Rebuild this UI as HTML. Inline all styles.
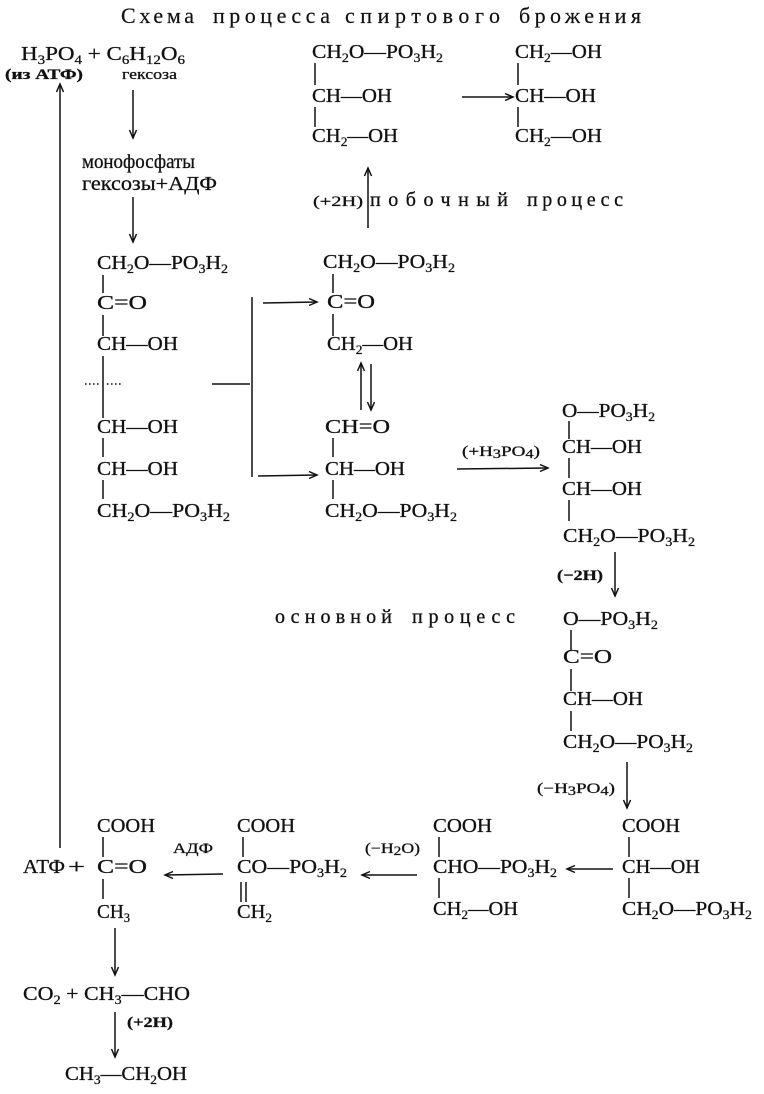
<!DOCTYPE html>
<html><head><meta charset="utf-8">
<style>
html,body{margin:0;padding:0;background:#fff;}
svg{display:block;}
text{font-family:"Liberation Serif","DejaVu Serif",serif;font-size:20px;fill:#111;stroke:#111;stroke-width:0.3;}
.b{font-size:13px;}
.sm{font-size:15px;}
.tt{font-size:22px;stroke-width:0.2;}
line,polyline{stroke:#111;stroke-width:1.5;fill:none;}
.d{stroke-dasharray:1.6,2.4;stroke-width:1.6;}
</style></head>
<body>
<svg width="764" height="1094" viewBox="0 0 764 1094" xmlns="http://www.w3.org/2000/svg">
<!-- Title -->
<text class="tt" x="121" y="23" textLength="73" lengthAdjust="spacing">Схема</text>
<text class="tt" x="213" y="23" textLength="117" lengthAdjust="spacing">процесса</text>
<text class="tt" x="345" y="23" textLength="155" lengthAdjust="spacing">спиртового</text>
<text class="tt" x="519" y="23" textLength="122" lengthAdjust="spacing">брожения</text>

<!-- Top left -->
<text x="21" y="60" textLength="164" lengthAdjust="spacingAndGlyphs">H<tspan class="b" dy="4">3</tspan><tspan dy="-4">PO</tspan><tspan class="b" dy="4">4</tspan><tspan dy="-4"> + C</tspan><tspan class="b" dy="4">6</tspan><tspan dy="-4">H</tspan><tspan class="b" dy="4">12</tspan><tspan dy="-4">O</tspan><tspan class="b" dy="4">6</tspan></text>
<text class="sm" x="5" y="79" font-weight="bold" textLength="78" lengthAdjust="spacingAndGlyphs">(из АТФ)</text>
<text class="sm" x="122" y="79" textLength="55" lengthAdjust="spacingAndGlyphs">гексоза</text>
<line x1="133" y1="90" x2="133" y2="138"/><polyline points="129.5,130 133,138 136.5,130"/>
<text x="82" y="168" textLength="113" lengthAdjust="spacingAndGlyphs">монофосфаты</text>
<text x="82" y="190" textLength="135" lengthAdjust="spacingAndGlyphs">гексозы+АДФ</text>
<line x1="133" y1="197" x2="133" y2="242"/><polyline points="129.5,234 133,242 136.5,234"/>

<!-- long left arrow -->
<line x1="60" y1="848" x2="60" y2="84"/><polyline points="56.5,92 60,84 63.5,92"/>

<!-- Top middle chain -->
<text x="312" y="58" textLength="131" lengthAdjust="spacingAndGlyphs">CH<tspan class="b" dy="4">2</tspan><tspan dy="-4">O—PO</tspan><tspan class="b" dy="4">3</tspan><tspan dy="-4">H</tspan><tspan class="b" dy="4">2</tspan></text>
<line x1="315" y1="63" x2="315" y2="85"/>
<text x="312" y="102" textLength="80" lengthAdjust="spacingAndGlyphs">CH—OH</text>
<line x1="315" y1="107" x2="315" y2="127"/>
<text x="312" y="142" textLength="86" lengthAdjust="spacingAndGlyphs">CH<tspan class="b" dy="4">2</tspan><tspan dy="-4">—OH</tspan></text>
<line x1="462" y1="97" x2="513" y2="97"/><polyline points="505,93.5 513,97 505,100.5"/>
<!-- Top right chain -->
<text x="515" y="58" textLength="87" lengthAdjust="spacingAndGlyphs">CH<tspan class="b" dy="4">2</tspan><tspan dy="-4">—OH</tspan></text>
<line x1="518" y1="63" x2="518" y2="85"/>
<text x="515" y="102" textLength="81" lengthAdjust="spacingAndGlyphs">CH—OH</text>
<line x1="518" y1="107" x2="518" y2="127"/>
<text x="515" y="142" textLength="87" lengthAdjust="spacingAndGlyphs">CH<tspan class="b" dy="4">2</tspan><tspan dy="-4">—OH</tspan></text>

<!-- side process -->
<text class="sm" x="313" y="206" textLength="50" lengthAdjust="spacingAndGlyphs">(+2H)</text>
<line x1="368" y1="228" x2="368" y2="168"/><polyline points="364.5,176 368,168 371.5,176"/>
<text x="370" y="206" textLength="138" lengthAdjust="spacing">побочный</text>
<text x="527" y="206" textLength="96" lengthAdjust="spacing">процесс</text>

<!-- Left chain (hexose diphosphate) -->
<text x="97" y="269" textLength="131" lengthAdjust="spacingAndGlyphs">CH<tspan class="b" dy="4">2</tspan><tspan dy="-4">O—PO</tspan><tspan class="b" dy="4">3</tspan><tspan dy="-4">H</tspan><tspan class="b" dy="4">2</tspan></text>
<line x1="103" y1="275" x2="103" y2="293"/>
<text x="97" y="309" textLength="50" lengthAdjust="spacingAndGlyphs">C=O</text>
<line x1="103" y1="315" x2="103" y2="336"/>
<text x="97" y="350" textLength="81" lengthAdjust="spacingAndGlyphs">CH—OH</text>
<line x1="103" y1="356" x2="103" y2="418"/>
<line class="d" x1="85" y1="384" x2="101" y2="384"/>
<line class="d" x1="107" y1="384" x2="123" y2="384"/>
<text x="97" y="433" textLength="81" lengthAdjust="spacingAndGlyphs">CH—OH</text>
<line x1="103" y1="438" x2="103" y2="457"/>
<text x="97" y="475" textLength="81" lengthAdjust="spacingAndGlyphs">CH—OH</text>
<line x1="103" y1="480" x2="103" y2="499"/>
<text x="97" y="517" textLength="133" lengthAdjust="spacingAndGlyphs">CH<tspan class="b" dy="4">2</tspan><tspan dy="-4">O—PO</tspan><tspan class="b" dy="4">3</tspan><tspan dy="-4">H</tspan><tspan class="b" dy="4">2</tspan></text>

<!-- split connector -->
<line x1="212" y1="384" x2="250" y2="384"/>
<line x1="252" y1="297" x2="252" y2="477"/>
<line x1="263" y1="303" x2="317" y2="302"/><polyline points="309,298.5 317,302 309,305.5"/>
<line x1="258" y1="476" x2="317" y2="475"/><polyline points="309,471.5 317,475 309,478.5"/>

<!-- Middle chain -->
<text x="323" y="268" textLength="132" lengthAdjust="spacingAndGlyphs">CH<tspan class="b" dy="4">2</tspan><tspan dy="-4">O—PO</tspan><tspan class="b" dy="4">3</tspan><tspan dy="-4">H</tspan><tspan class="b" dy="4">2</tspan></text>
<line x1="333" y1="274" x2="333" y2="293"/>
<text x="327" y="308" textLength="48" lengthAdjust="spacingAndGlyphs">C=O</text>
<line x1="333" y1="314" x2="333" y2="336"/>
<text x="327" y="350" textLength="86" lengthAdjust="spacingAndGlyphs">CH<tspan class="b" dy="4">2</tspan><tspan dy="-4">—OH</tspan></text>
<line x1="361" y1="410" x2="361" y2="363"/><polyline points="357.5,371 361,363 364.5,371"/>
<line x1="371" y1="364" x2="371" y2="410"/><polyline points="367.5,402 371,410 374.5,402"/>
<text x="325" y="433" textLength="65" lengthAdjust="spacingAndGlyphs">CH=O</text>
<line x1="333" y1="438" x2="333" y2="457"/>
<text x="325" y="475" textLength="80" lengthAdjust="spacingAndGlyphs">CH—OH</text>
<line x1="333" y1="480" x2="333" y2="499"/>
<text x="325" y="517" textLength="132" lengthAdjust="spacingAndGlyphs">CH<tspan class="b" dy="4">2</tspan><tspan dy="-4">O—PO</tspan><tspan class="b" dy="4">3</tspan><tspan dy="-4">H</tspan><tspan class="b" dy="4">2</tspan></text>

<!-- +H3PO4 arrow -->
<text class="sm" x="462" y="456" textLength="78" lengthAdjust="spacingAndGlyphs">(+H<tspan class="b" dy="2">3</tspan><tspan dy="-2">PO</tspan><tspan class="b" dy="2">4</tspan><tspan dy="-2">)</tspan></text>
<line x1="457" y1="469" x2="548" y2="468"/><polyline points="540,464.5 548,468 540,471.5"/>

<!-- Right chain 1 -->
<text x="562" y="417" textLength="93" lengthAdjust="spacingAndGlyphs">O—PO<tspan class="b" dy="4">3</tspan><tspan dy="-4">H</tspan><tspan class="b" dy="4">2</tspan></text>
<line x1="569" y1="421" x2="569" y2="439"/>
<text x="562" y="453" textLength="80" lengthAdjust="spacingAndGlyphs">CH—OH</text>
<line x1="569" y1="458" x2="569" y2="478"/>
<text x="562" y="495" textLength="80" lengthAdjust="spacingAndGlyphs">CH—OH</text>
<line x1="569" y1="500" x2="569" y2="521"/>
<text x="563" y="542" textLength="132" lengthAdjust="spacingAndGlyphs">CH<tspan class="b" dy="4">2</tspan><tspan dy="-4">O—PO</tspan><tspan class="b" dy="4">3</tspan><tspan dy="-4">H</tspan><tspan class="b" dy="4">2</tspan></text>
<text class="sm" x="557" y="580" font-weight="bold" textLength="46" lengthAdjust="spacingAndGlyphs">(−2H)</text>
<line x1="615" y1="552" x2="615" y2="596"/><polyline points="611.5,588 615,596 618.5,588"/>

<!-- main process label -->
<text x="275" y="623" textLength="117" lengthAdjust="spacing">основной</text>
<text x="412" y="623" textLength="103" lengthAdjust="spacing">процесс</text>

<!-- Right chain 2 -->
<text x="563" y="625" textLength="95" lengthAdjust="spacingAndGlyphs">O—PO<tspan class="b" dy="4">3</tspan><tspan dy="-4">H</tspan><tspan class="b" dy="4">2</tspan></text>
<line x1="571" y1="630" x2="571" y2="650"/>
<text x="563" y="663" textLength="49" lengthAdjust="spacingAndGlyphs">C=O</text>
<line x1="571" y1="669" x2="571" y2="691"/>
<text x="563" y="705" textLength="80" lengthAdjust="spacingAndGlyphs">CH—OH</text>
<line x1="571" y1="711" x2="571" y2="731"/>
<text x="563" y="748" textLength="130" lengthAdjust="spacingAndGlyphs">CH<tspan class="b" dy="4">2</tspan><tspan dy="-4">O—PO</tspan><tspan class="b" dy="4">3</tspan><tspan dy="-4">H</tspan><tspan class="b" dy="4">2</tspan></text>
<text class="sm" x="537" y="793" textLength="78" lengthAdjust="spacingAndGlyphs">(−H<tspan class="b" dy="2">3</tspan><tspan dy="-2">PO</tspan><tspan class="b" dy="2">4</tspan><tspan dy="-2">)</tspan></text>
<line x1="627" y1="762" x2="627" y2="808"/><polyline points="623.5,800 627,808 630.5,800"/>

<!-- Bottom right chain -->
<text x="622" y="832" textLength="58" lengthAdjust="spacingAndGlyphs">COOH</text>
<line x1="629" y1="837" x2="629" y2="857"/>
<text x="622" y="873" textLength="78" lengthAdjust="spacingAndGlyphs">CH—OH</text>
<line x1="629" y1="878" x2="629" y2="898"/>
<text x="622" y="915" textLength="130" lengthAdjust="spacingAndGlyphs">CH<tspan class="b" dy="4">2</tspan><tspan dy="-4">O—PO</tspan><tspan class="b" dy="4">3</tspan><tspan dy="-4">H</tspan><tspan class="b" dy="4">2</tspan></text>
<line x1="613" y1="869" x2="567" y2="869"/><polyline points="575,865.5 567,869 575,872.5"/>

<!-- Bottom middle chain -->
<text x="433" y="832" textLength="59" lengthAdjust="spacingAndGlyphs">COOH</text>
<line x1="439" y1="837" x2="439" y2="857"/>
<text x="433" y="873" textLength="124" lengthAdjust="spacingAndGlyphs">CHO—PO<tspan class="b" dy="4">3</tspan><tspan dy="-4">H</tspan><tspan class="b" dy="4">2</tspan></text>
<line x1="439" y1="878" x2="439" y2="898"/>
<text x="433" y="915" textLength="85" lengthAdjust="spacingAndGlyphs">CH<tspan class="b" dy="4">2</tspan><tspan dy="-4">—OH</tspan></text>
<text class="sm" x="365" y="853" textLength="55" lengthAdjust="spacingAndGlyphs">(−H<tspan class="b" dy="2">2</tspan><tspan dy="-2">O)</tspan></text>
<line x1="417" y1="875" x2="362" y2="875"/><polyline points="370,871.5 362,875 370,878.5"/>

<!-- phosphoenolpyruvate -->
<text x="237" y="832" textLength="58" lengthAdjust="spacingAndGlyphs">COOH</text>
<line x1="243" y1="837" x2="243" y2="857"/>
<text x="237" y="873" textLength="110" lengthAdjust="spacingAndGlyphs">CO—PO<tspan class="b" dy="4">3</tspan><tspan dy="-4">H</tspan><tspan class="b" dy="4">2</tspan></text>
<line x1="241" y1="882" x2="241" y2="902"/>
<line x1="246" y1="882" x2="246" y2="902"/>
<text x="237" y="918" textLength="35" lengthAdjust="spacingAndGlyphs">CH<tspan class="b" dy="4">2</tspan></text>
<text class="sm" x="173" y="853" textLength="40" lengthAdjust="spacingAndGlyphs">АДФ</text>
<line x1="223" y1="874" x2="165" y2="875"/><polyline points="173,871.5 165,875 173,878.5"/>

<!-- pyruvate -->
<text x="23" y="873" textLength="42" lengthAdjust="spacingAndGlyphs">АТФ</text>
<text x="68" y="873" textLength="17" lengthAdjust="spacingAndGlyphs">+</text>
<text x="97" y="832" textLength="58" lengthAdjust="spacingAndGlyphs">COOH</text>
<line x1="103" y1="837" x2="103" y2="857"/>
<text x="97" y="873" textLength="50" lengthAdjust="spacingAndGlyphs">C=O</text>
<line x1="103" y1="879" x2="103" y2="899"/>
<text x="97" y="918" textLength="33" lengthAdjust="spacingAndGlyphs">CH<tspan class="b" dy="4">3</tspan></text>
<line x1="115" y1="928" x2="115" y2="975"/><polyline points="111.5,967 115,975 118.5,967"/>
<text x="23" y="1000" textLength="167" lengthAdjust="spacingAndGlyphs">CO<tspan class="b" dy="4">2</tspan><tspan dy="-4"> + CH</tspan><tspan class="b" dy="4">3</tspan><tspan dy="-4">—CHO</tspan></text>
<line x1="115" y1="1012" x2="115" y2="1057"/><polyline points="111.5,1049 115,1057 118.5,1049"/>
<text class="sm" x="127" y="1027" font-weight="bold" textLength="46" lengthAdjust="spacingAndGlyphs">(+2H)</text>
<text x="65" y="1080" textLength="122" lengthAdjust="spacingAndGlyphs">CH<tspan class="b" dy="4">3</tspan><tspan dy="-4">—CH</tspan><tspan class="b" dy="4">2</tspan><tspan dy="-4">OH</tspan></text>
</svg>
</body></html>
